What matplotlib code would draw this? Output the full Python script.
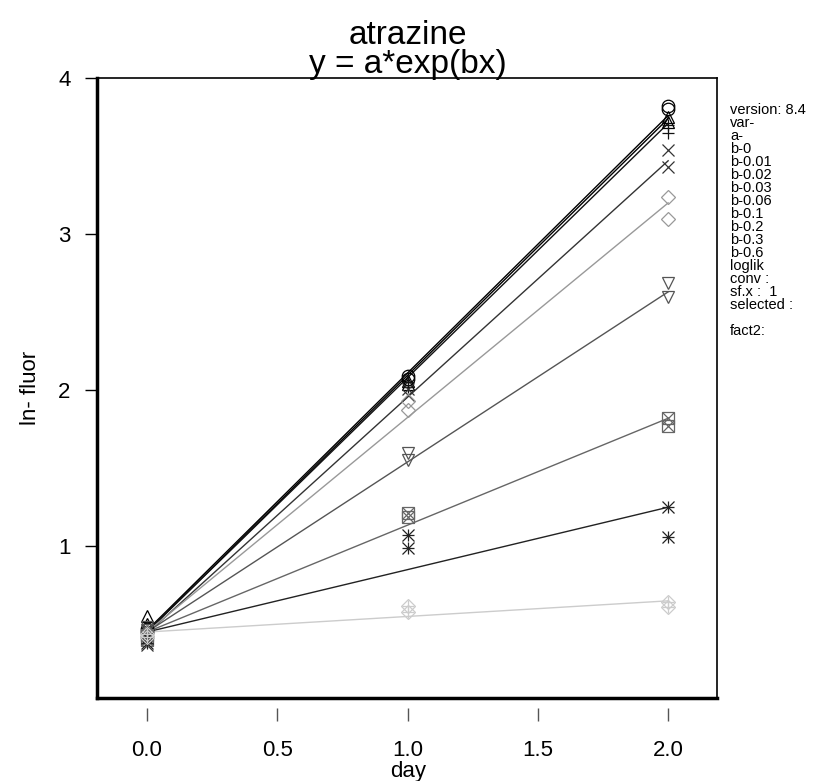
import numpy as np
import matplotlib
matplotlib.use("Agg")
import matplotlib.pyplot as plt

plt.rcParams['font.family'] = ['Liberation Sans', 'DejaVu Sans']

days = [0, 1, 2]
groups = ["b-0", "b-0.01", "b-0.02", "b-0.03", "b-0.06", "b-0.1", "b-0.2", "b-0.3", "b-0.6"]

# two replicates per day for each group (ln fluor)
rep1 = [
    [0.45, 2.09, 3.82],
    [0.55, 2.06, 3.75],
    [0.48, 2.05, 3.70],
    [0.37, 2.01, 3.54],
    [0.42, 1.93, 3.24],
    [0.48, 1.60, 2.69],
    [0.40, 1.21, 1.82],
    [0.38, 1.07, 1.25],
    [0.42, 0.62, 0.64],
]
rep2 = [
    [0.47, 2.07, 3.80],
    [0.50, 2.04, 3.72],
    [0.44, 2.02, 3.65],
    [0.40, 1.97, 3.43],
    [0.45, 1.87, 3.10],
    [0.46, 1.55, 2.60],
    [0.43, 1.19, 1.77],
    [0.41, 0.99, 1.06],
    [0.44, 0.58, 0.61],
]

# fitted line, value at day 0 and slope
fit_a = [0.46, 0.45, 0.45, 0.44, 0.45, 0.45, 0.45, 0.45, 0.45]
fit_b = [1.650, 1.645, 1.630, 1.515, 1.375, 1.090, 0.685, 0.400, 0.100]

colors = ["#000000", "#000000", "#111111", "#333333", "#999999",
          "#555555", "#666666", "#222222", "#cccccc"]
markers = [["o"], ["^"], ["+"], ["x"], ["D"], ["v"], ["s", "x"], ["+", "x"], ["D", "+"]]

info = ["version: 8.4", "var-", "a-", "b-0", "b-0.01", "b-0.02", "b-0.03",
        "b-0.06", "b-0.1", "b-0.2", "b-0.3", "b-0.6", "loglik", "conv :",
        "sf.x :  1", "selected :", "", "fact2:"]

fig = plt.figure(figsize=(8.14, 7.81), dpi=100)
ax = fig.add_axes([0.119, 0.106, 0.762, 0.794])

xx = np.array([0, 2])
for i in range(len(groups)):
    ax.plot(xx, fit_a[i] + fit_b[i] * xx, color=colors[i], lw=1.0, zorder=2)
    for m in markers[i]:
        ms = 7 if m == "D" else 9
        for rep in (rep1, rep2):
            ax.plot(days, rep[i], linestyle="none", marker=m, ms=ms,
                    mfc="none", mec=colors[i], mew=0.9, zorder=3)

ax.set_xlim(-0.192, 2.188)
ax.set_ylim(0.026, 4.0)
ax.set_xticks([0, 0.5, 1, 1.5, 2])
ax.set_xticklabels(["0.0", "0.5", "1.0", "1.5", "2.0"])
ax.set_yticks([1, 2, 3, 4])
ax.set_yticklabels(["1", "2", "3", "4"])
ax.tick_params(axis="x", length=9, width=1, color="#555555", pad=14, labelsize=16)
ax.tick_params(axis="y", length=9, width=1, pad=10, labelsize=16)

# x ticks sit a little below the box
ax.spines["bottom"].set_position(("outward", 7))
ax.spines["bottom"].set_visible(False)
ax.plot([0, 1], [0, 0], transform=ax.transAxes, color="black", lw=2.5,
        clip_on=False, zorder=5)
ax.spines["left"].set_linewidth(2.5)
for s in ["top", "right"]:
    ax.spines[s].set_linewidth(1.2)

fig.text(408 / 814, 1 - 771 / 781, "day", ha="center", va="center", fontsize=16)
fig.text(30 / 814, 1 - 388 / 781, "ln- fluor", ha="center", va="center",
         rotation=90, fontsize=16)

fig.text(0.501, 0.954, "atrazine", ha="center", va="center", fontsize=24)
fig.text(0.501, 0.918, "y = a*exp(bx)", ha="center", va="center", fontsize=24)

for k, line in enumerate(info):
    fig.text(730 / 814, 1 - (110 + 13.0 * k) / 781, line, ha="left", va="center", fontsize=10.5)

fig.savefig("out.png", dpi=100)
